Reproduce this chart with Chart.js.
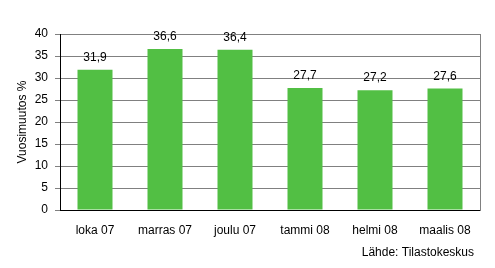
<!DOCTYPE html>
<html>
<head>
  <title>Vuosimuutos</title>
  <style>
    body {
      margin: 0;
      padding: 0;
      background-color: #FFF;
    }
    #wrap {
      width: 495px;
      height: 268px;
    }
  </style>
</head>
<body>
  <div id="wrap"><canvas id="chart" width="495" height="268"></canvas></div>

  <script src="https://cdn.jsdelivr.net/npm/chart.js"></script>
  <script>
    // Data
    var months = ['loka 07', 'marras 07', 'joulu 07', 'tammi 08', 'helmi 08', 'maalis 08'];
    var changes = [31.9, 36.6, 36.4, 27.7, 27.2, 27.6];
    var yTicks = [0, 5, 10, 15, 20, 25, 30, 35, 40];
    var yTitle = 'Vuosimuutos %';
    var source = 'Lähde: Tilastokeskus';

    var fontFamily = 'Arial, "Liberation Sans", sans-serif';

    // Draws the value labels above bars and the source line
    var labelPlugin = {
      id: 'labels',
      afterDatasetsDraw: function(chart) {
        var ctx = chart.ctx;
        var meta = chart.getDatasetMeta(0);
        ctx.save();
        ctx.font = '12px ' + fontFamily;
        ctx.fillStyle = '#000';
        ctx.textAlign = 'center';
        ctx.textBaseline = 'alphabetic';
        meta.data.forEach(function(bar, i) {
          ctx.fillText(changes[i].toFixed(1).replace('.', ','), bar.x, bar.y - 9);
        });
        ctx.textAlign = 'right';
        ctx.fillText(source, 474, 256);
        ctx.restore();
      }
    };

    new Chart(document.getElementById('chart').getContext('2d'), {
      type: 'bar',
      data: {
        labels: months,
        datasets: [{
          data: changes,
          backgroundColor: '#52BF44',
          borderWidth: 0,
          barPercentage: 0.5,
          categoryPercentage: 1.0
        }]
      },
      options: {
        responsive: false,
        animation: false,
        layout: {
          padding: { top: 34, right: 15, bottom: 28, left: 0 }
        },
        plugins: {
          legend: { display: false },
          tooltip: { enabled: false }
        },
        scales: {
          x: {
            grid: { display: false },
            border: { display: true, color: '#000', width: 1 },
            ticks: {
              color: '#000',
              font: { family: fontFamily, size: 12 },
              padding: 5,
              maxRotation: 0
            },
            afterFit: function(scale) { scale.height = 30; }
          },
          y: {
            min: 0,
            max: 40,
            afterBuildTicks: function(scale) {
              scale.ticks = yTicks.map(function(v) { return { value: v }; });
            },
            grid: { color: '#808080', tickLength: 5 },
            border: { display: true, color: '#000', width: 1 },
            ticks: {
              color: '#000',
              font: { family: fontFamily, size: 12 },
              padding: 7
            },
            title: {
              display: true,
              text: yTitle,
              color: '#000',
              font: { family: fontFamily, size: 12 },
              padding: { top: 15, bottom: 0 }
            },
            afterFit: function(scale) { scale.width = 60; }
          },
          y2: {
            position: 'right',
            min: 0,
            max: 40,
            grid: { drawOnChartArea: false, drawTicks: false },
            border: { display: true, color: '#808080', width: 1 },
            ticks: { display: false },
            afterFit: function(scale) { scale.width = 0; }
          }
        }
      },
      plugins: [labelPlugin]
    });
  </script>
</body>
</html>
